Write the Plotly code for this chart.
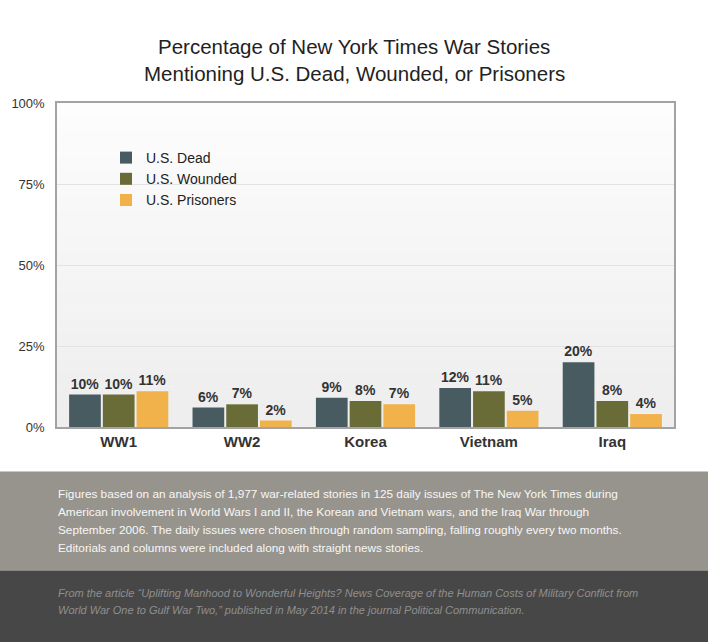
import plotly.graph_objects as go

categories = ["WW1", "WW2", "Korea", "Vietnam", "Iraq"]
dead = [10, 6, 9, 12, 20]
wounded = [10, 7, 8, 11, 8]
prisoners = [11, 2, 7, 5, 4]
series_names = ["U.S. Dead", "U.S. Wounded", "U.S. Prisoners"]
colors = ["#485b61", "#6a6c37", "#f1b14b"]
y_ticks = [0, 25, 50, 75, 100]
y_tick_labels = ["0%", "25%", "50%", "75%", "100%"]

title_lines = ["Percentage of New York Times War Stories",
               "Mentioning U.S. Dead, Wounded, or Prisoners"]
note_lines = [
    "Figures based on an analysis of 1,977 war-related stories in 125 daily issues of The New York Times during",
    "American involvement in World Wars I and II, the Korean and Vietnam wars, and the Iraq War through",
    "September 2006. The daily issues were chosen through random sampling, falling roughly every two months.",
    "Editorials and columns were included along with straight news stories.",
]
source_lines = [
    "From the article \u201cUplifting Manhood to Wonderful Heights? News Coverage of the Human Costs of Military Conflict from",
    "World War One to Gulf War Two,\u201d published in May 2014 in the journal Political Communication.",
]

W, H = 708, 642
L, R, T, B = 57, 34, 103, 215
pw, ph = W - L - R, H - T - B


def px_x(px):
    return (px - L) / pw


def px_y(py):
    return (H - B - py) / ph


fig = go.Figure()
for name, vals, col in zip(series_names, [dead, wounded, prisoners], colors):
    fig.add_trace(go.Bar(
        x=categories, y=vals, name=name, marker=dict(color=col, line=dict(width=0)),
        text=[f"{v}%" for v in vals], textposition="outside", cliponaxis=False,
        textfont=dict(family="Liberation Sans", size=14, color="#333333"),
        texttemplate="<b>%{text}</b>",
    ))

shapes = []
# plot background gradient (top white -> bottom light gray)
n = 24
for i in range(n):
    c = int(253 - (253 - 238) * i / (n - 1))
    shapes.append(dict(type="rect", xref="paper", yref="paper", x0=0, x1=1,
                       y0=1 - (i + 1) / n, y1=1 - i / n, layer="below",
                       line=dict(width=0), fillcolor=f"rgb({c},{c},{c})"))
# footer bands
shapes.append(dict(type="rect", xref="paper", yref="paper", x0=px_x(-2), x1=px_x(W + 2),
                   y0=px_y(570), y1=px_y(471.5), line=dict(width=0), fillcolor="#97948e"))
shapes.append(dict(type="rect", xref="paper", yref="paper", x0=px_x(-2), x1=px_x(W + 2),
                   y0=px_y(H + 2), y1=px_y(570), line=dict(width=0), fillcolor="#474747"))
shapes.append(dict(type="line", xref="paper", yref="paper", x0=px_x(-2), x1=px_x(W + 2),
                   y0=px_y(570.5), y1=px_y(570.5), line=dict(width=1, color="#8a8882")))

annotations = []
for i, t in enumerate(title_lines):
    annotations.append(dict(text=t, xref="paper", yref="paper", x=px_x(354), y=px_y(47 + 26 * i),
                            xanchor="center", yanchor="middle", showarrow=False,
                            font=dict(family="Liberation Sans", size=20.5, color="#222222")))
for i, t in enumerate(note_lines):
    annotations.append(dict(text=t, xref="paper", yref="paper", x=px_x(56), y=px_y(494 + 18 * i),
                            xanchor="left", yanchor="middle", showarrow=False,
                            font=dict(family="Liberation Sans", size=11.8, color="#f7f7f5")))
for i, t in enumerate(source_lines):
    annotations.append(dict(text=f"<i>{t}</i>", xref="paper", yref="paper", x=px_x(56), y=px_y(593 + 16.5 * i),
                            xanchor="left", yanchor="middle", showarrow=False,
                            font=dict(family="Liberation Sans", size=11, color="#8f8f8f")))

fig.update_layout(
    width=W, height=H,
    margin=dict(l=L, r=R, t=T, b=B, pad=0),
    paper_bgcolor="white", plot_bgcolor="#f7f7f7",
    barmode="group", bargap=0.18, bargroupgap=0.06,
    showlegend=True,
    legend=dict(x=px_x(106), y=px_y(142), xanchor="left", yanchor="top",
                bgcolor="rgba(0,0,0,0)", font=dict(family="Liberation Sans", size=14, color="#222222"),
                tracegroupgap=0, itemwidth=30),
    shapes=shapes, annotations=annotations,
    font=dict(family="Liberation Sans"),
)
fig.update_xaxes(showline=True, mirror=True, linecolor="#a3a3a3", linewidth=1.5,
                 ticks="", showgrid=False,
                 tickfont=dict(family="Liberation Sans", size=15, color="#333333", weight="bold"))
fig.update_yaxes(range=[0, 100], tickvals=y_ticks, ticktext=y_tick_labels,
                 showline=True, mirror=True, linecolor="#a3a3a3", linewidth=1.5,
                 showgrid=True, gridcolor="#e2e2e2", gridwidth=1, zeroline=False,
                 ticks="", ticklabelstandoff=8,
                 tickfont=dict(family="Liberation Sans", size=13, color="#333333"))

fig.write_html("out.html", config={"displayModeBar": False},
               post_script="document.body.style.margin='0';document.body.style.overflow='hidden';")
